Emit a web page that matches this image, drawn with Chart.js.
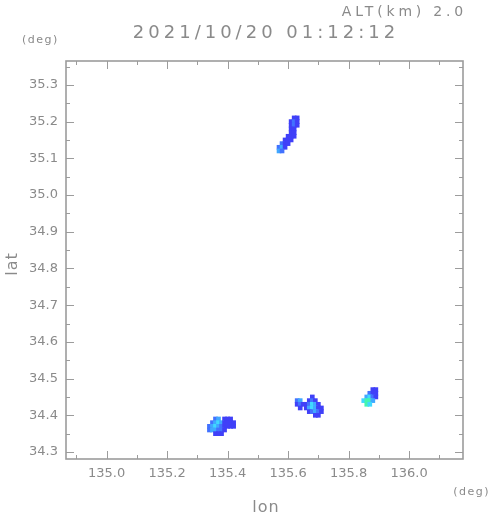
<!DOCTYPE html>
<html>
<head>
<meta charset="utf-8">
<script src="https://cdn.jsdelivr.net/npm/chart.js@4.4.0/dist/chart.umd.min.js"></script>
<style>
  html, body { margin: 0; padding: 0; background: #fff; }
</style>
</head>
<body>
<canvas id="myChart" width="491" height="521"></canvas>
<script>
// echo cells: lon, lat, intensity level
var cellLon = [
  // north band
  135.62, 135.63,
  135.61, 135.62, 135.63,
  135.61, 135.62, 135.63,
  135.61, 135.62,
  135.61, 135.62,
  135.60, 135.61, 135.62,
  135.59, 135.60, 135.61,
  135.58, 135.59, 135.60,
  135.57, 135.58, 135.59,
  135.57, 135.58,
  // south-west cell
  135.36, 135.37, 135.39, 135.40, 135.41,
  135.35, 135.36, 135.37, 135.38, 135.39, 135.40, 135.41, 135.42,
  135.34, 135.35, 135.36, 135.37, 135.38, 135.39, 135.40, 135.41, 135.42,
  135.34, 135.35, 135.36, 135.37, 135.38, 135.39,
  135.36, 135.37, 135.38,
  // middle cell
  135.68,
  135.63, 135.64, 135.67, 135.68, 135.69,
  135.63, 135.64, 135.65, 135.66, 135.67, 135.68, 135.69, 135.70,
  135.64, 135.66, 135.67, 135.68, 135.69, 135.70, 135.71,
  135.67, 135.68, 135.69, 135.70, 135.71,
  135.69, 135.70,
  // east cell
  135.88, 135.89,
  135.87, 135.88, 135.89,
  135.86, 135.87, 135.88, 135.89,
  135.85, 135.86, 135.87, 135.88,
  135.86, 135.87
];
var cellLat = [
  35.21, 35.21,
  35.20, 35.20, 35.20,
  35.19, 35.19, 35.19,
  35.18, 35.18,
  35.17, 35.17,
  35.16, 35.16, 35.16,
  35.15, 35.15, 35.15,
  35.14, 35.14, 35.14,
  35.13, 35.13, 35.13,
  35.12, 35.12,

  34.39, 34.39, 34.39, 34.39, 34.39,
  34.38, 34.38, 34.38, 34.38, 34.38, 34.38, 34.38, 34.38,
  34.37, 34.37, 34.37, 34.37, 34.37, 34.37, 34.37, 34.37, 34.37,
  34.36, 34.36, 34.36, 34.36, 34.36, 34.36,
  34.35, 34.35, 34.35,

  34.45,
  34.44, 34.44, 34.44, 34.44, 34.44,
  34.43, 34.43, 34.43, 34.43, 34.43, 34.43, 34.43, 34.43,
  34.42, 34.42, 34.42, 34.42, 34.42, 34.42, 34.42,
  34.41, 34.41, 34.41, 34.41, 34.41,
  34.40, 34.40,

  34.47, 34.47,
  34.46, 34.46, 34.46,
  34.45, 34.45, 34.45, 34.45,
  34.44, 34.44, 34.44, 34.44,
  34.43, 34.43
];
var cellLevel = [
  1, 1,
  1, 2, 1,
  1, 2, 1,
  1, 1,
  1, 1,
  1, 1, 1,
  1, 1, 1,
  2, 1, 1,
  2, 3, 1,
  3, 2,

  2, 3, 1, 1, 1,
  2, 3, 4, 3, 1, 1, 1, 1,
  2, 3, 4, 3, 2, 1, 1, 1, 1,
  2, 3, 3, 2, 2, 1,
  1, 1, 1,

  1,
  2, 3, 1, 2, 1,
  1, 2, 1, 1, 2, 4, 3, 1,
  1, 1, 3, 4, 3, 1, 1,
  1, 2, 3, 2, 1,
  1, 1,

  1, 1,
  2, 1, 1,
  3, 4, 2, 1,
  4, 5, 5, 3,
  5, 4
];
var levelColors = ['#ffffff', '#4040f8', '#4272ff', '#40a8ff', '#40d8ff', '#44f6b0'];

var xMajor = [135.0, 135.2, 135.4, 135.6, 135.8, 136.0];
var xMinor = [134.9, 135.1, 135.3, 135.5, 135.7, 135.9, 136.1];
var yMajor = [34.3, 34.4, 34.5, 34.6, 34.7, 34.8, 34.9, 35.0, 35.1, 35.2, 35.3];
var yMinor = [34.35, 34.45, 34.55, 34.65, 34.75, 34.85, 34.95, 35.05, 35.15, 35.25, 35.35];

var titleText = '2021/10/20 01:12:12';
var altText = 'ALT(km) 2.0';
var textColor = '#8a8a8a';
var frameColor = '#9c9c9c';

var points = [];
for (var i = 0; i < cellLon.length; i++) {
  points.push({ x: cellLon[i], y: cellLat[i] });
}

// frame, inward ticks and captions
var framePlugin = {
  id: 'frame',
  afterDatasetsDraw: function(chart) {
    var c = chart.ctx, a = chart.chartArea;
    var xs = chart.scales.x, ys = chart.scales.y;
    c.save();
    c.strokeStyle = frameColor;
    c.lineWidth = 1;
    c.beginPath();
    function xt(v, len) {
      var px = Math.round(xs.getPixelForValue(v)) + 0.5;
      c.moveTo(px, a.bottom); c.lineTo(px, a.bottom - len);
      c.moveTo(px, a.top); c.lineTo(px, a.top + len);
    }
    function yt(v, len) {
      var py = Math.round(ys.getPixelForValue(v)) + 0.5;
      c.moveTo(a.left, py); c.lineTo(a.left + len, py);
      c.moveTo(a.right, py); c.lineTo(a.right - len, py);
    }
    xMajor.forEach(function(v) { xt(v, 8); });
    xMinor.forEach(function(v) { xt(v, 4); });
    yMajor.forEach(function(v) { yt(v, 8); });
    yMinor.forEach(function(v) { yt(v, 4); });
    c.stroke();
    c.lineWidth = 1.6;
    c.strokeRect(a.left, a.top, a.right - a.left, a.bottom - a.top);

    c.fillStyle = textColor;
    c.textBaseline = 'alphabetic';
    c.font = '14px "DejaVu Sans"';
    c.letterSpacing = '3.8px';
    c.textAlign = 'right';
    c.fillText(altText, 467, 16);

    c.font = '18px "DejaVu Sans"';
    c.letterSpacing = '4px';
    c.textAlign = 'center';
    c.fillText(titleText, 266, 38);

    c.font = '11px "DejaVu Sans"';
    c.letterSpacing = '1.5px';
    c.textAlign = 'left';
    c.fillText('(deg)', 22, 43);
    c.textAlign = 'right';
    c.fillText('(deg)', 490, 495);

    c.font = '16px "DejaVu Sans"';
    c.letterSpacing = '1px';
    c.textAlign = 'center';
    c.fillText('lon', 266, 512);
    c.translate(17, 264);
    c.rotate(-Math.PI / 2);
    c.fillText('lat', 0, 0);
    c.restore();
  }
};

var ctx = document.getElementById('myChart').getContext('2d');
var chart = new Chart(ctx, {
  type: 'scatter',
  data: {
    datasets: [{
      data: points,
      pointStyle: 'rect',
      pointRadius: 3.3,
      pointHoverRadius: 3.3,
      borderWidth: 0,
      backgroundColor: function(c) { return levelColors[cellLevel[c.dataIndex]]; }
    }]
  },
  options: {
    responsive: false,
    animation: false,
    layout: { padding: { left: 0, top: 61, right: 28, bottom: 0 } },
    plugins: { legend: { display: false }, tooltip: { enabled: false } },
    scales: {
      x: {
        type: 'linear',
        min: 134.866,
        max: 136.178,
        grid: { display: false, drawTicks: false },
        border: { display: false },
        afterBuildTicks: function(s) { s.ticks = xMajor.map(function(v) { return { value: v }; }); },
        afterFit: function(s) { s.height = 62; },
        ticks: {
          padding: 7,
          color: textColor,
          font: { family: 'DejaVu Sans', size: 13 },
          maxRotation: 0,
          callback: function(v) { return v.toFixed(1); }
        }
      },
      y: {
        type: 'linear',
        min: 34.281,
        max: 35.365,
        grid: { display: false, drawTicks: false },
        border: { display: false },
        afterBuildTicks: function(s) { s.ticks = yMajor.map(function(v) { return { value: v }; }); },
        afterFit: function(s) { s.width = 66; },
        ticks: {
          padding: 8,
          color: textColor,
          font: { family: 'DejaVu Sans', size: 13 },
          callback: function(v) { return v.toFixed(1); }
        }
      }
    }
  },
  plugins: [framePlugin]
});
</script>
</body>
</html>
